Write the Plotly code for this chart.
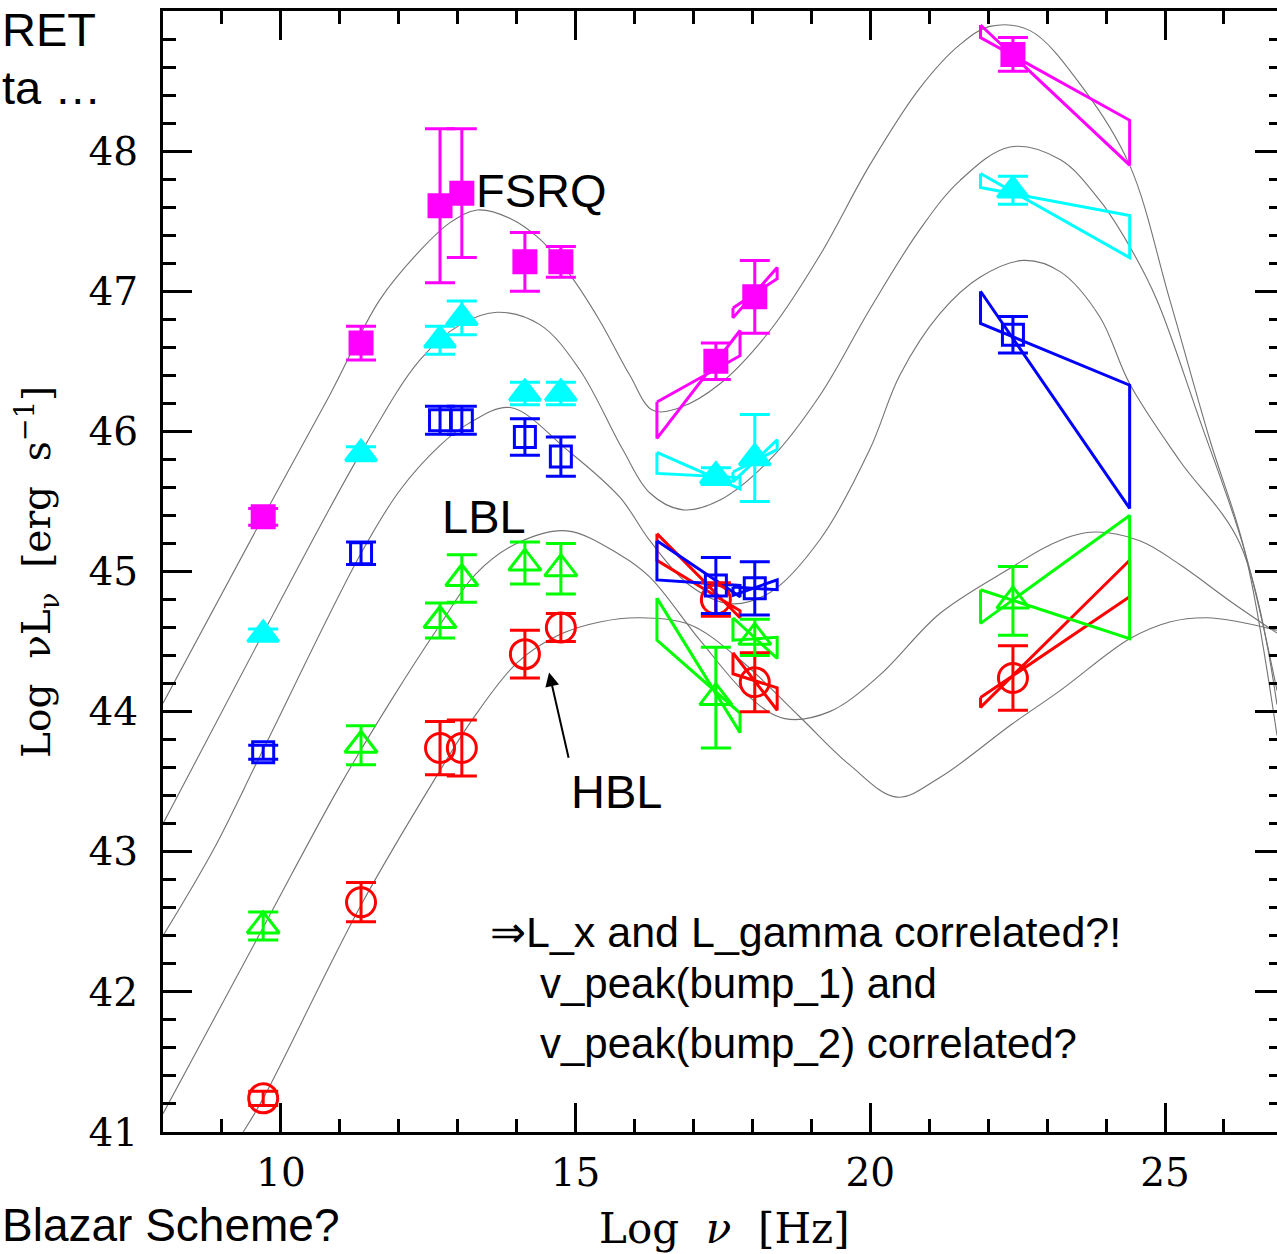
import plotly.graph_objects as go

# ---------------- data ----------------
log_nu = [9.70, 11.36, 12.70, 13.07, 14.14, 14.75, 17.38, 18.04, 22.42]

fsrq_y   = [45.39, 46.63, 47.61, 47.70, 47.21, 47.21, 46.50, 46.96, 48.69]
fsrq_err = [0.06, 0.12, 0.55, 0.46, 0.21, 0.11, 0.13, 0.26, 0.12]

cyan_y   = [44.55, 45.84, 46.65, 46.81, 46.27, 46.27, 45.68, 45.81, 47.72]
cyan_err = [0.04, 0.05, 0.10, 0.12, 0.08, 0.08, 0.06, 0.31, 0.10]

blue_y   = [43.71, 45.13, 46.08, 46.08, 45.96, 45.82, 44.90, 44.88, 46.69]
blue_err = [0.05, 0.08, 0.10, 0.10, 0.13, 0.14, 0.20, 0.19, 0.13]

green_y   = [42.47, 43.76, 44.65, 44.95, 45.06, 45.02, 44.10, 44.53, 44.79]
green_err = [0.10, 0.14, 0.125, 0.17, 0.15, 0.18, 0.36, 0.13, 0.245]

red_y   = [41.24, 42.64, 43.74, 43.74, 44.41, 44.60, 44.80, 44.21, 44.24]
red_err = [0.05, 0.14, 0.19, 0.20, 0.17, 0.10, 0.12, 0.21, 0.23]

# bow-ties (x, y polygon vertices)
bt_x_soft  = [16.38, 17.79, 17.79, 16.38, 16.38]
bt_x_hard  = [17.67, 18.42, 18.42, 17.67, 17.67]
bt_x_gamma = [21.87, 24.40, 24.40, 21.87, 21.87]

fsrq_soft_y  = [46.21, 46.54, 46.72, 45.95, 46.21]
fsrq_hard_y  = [46.88, 47.09, 47.17, 46.81, 46.88]
fsrq_gam_y   = [48.90, 47.90, 48.22, 48.81, 48.90]

cyan_soft_y  = [45.85, 45.59, 45.67, 45.70, 45.85]
cyan_hard_y  = [45.71, 45.87, 45.94, 45.64, 45.71]
cyan_gam_y   = [47.84, 47.24, 47.54, 47.74, 47.84]

blue_soft_y  = [45.22, 44.82, 44.90, 44.94, 45.22]
blue_hard_y  = [44.89, 44.87, 44.94, 44.83, 44.89]
blue_gam_y   = [47.00, 45.45, 46.33, 46.77, 47.00]

green_soft_y = [44.81, 43.85, 43.99, 44.51, 44.81]
green_hard_y = [44.67, 44.38, 44.53, 44.51, 44.67]
green_gam_y  = [44.87, 44.52, 45.40, 44.63, 44.87]

red_soft_y   = [45.27, 44.67, 44.72, 45.08, 45.27]
red_hard_y   = [44.42, 44.01, 44.17, 44.27, 44.42]
red_gam_y    = [44.10, 44.82, 45.08, 44.03, 44.10]

# model curves
c1_x = [8.00, 9.70, 10.83, 11.68, 12.36, 12.87, 13.33, 13.89, 14.40, 14.90, 15.41, 15.92, 16.31, 16.77,
        17.45, 18.30, 19.15, 19.99, 20.84, 21.52, 22.03, 22.71, 23.61, 24.40, 25.08, 25.76, 26.35, 26.90]
c1_y = [44.06, 45.39, 46.26, 46.94, 47.29, 47.49, 47.58, 47.52, 47.37, 47.12, 46.79, 46.40, 46.15, 46.17,
        46.34, 46.72, 47.26, 47.90, 48.45, 48.76, 48.89, 48.86, 48.45, 47.90, 46.94, 45.94, 45.15, 43.83]

c2_x = [8.00, 9.70, 11.36, 12.36, 13.04, 13.67, 14.40, 15.07, 15.80, 16.26, 16.82, 17.45, 18.30, 19.15,
        19.99, 20.84, 21.52, 22.37, 23.22, 23.89, 24.40, 24.86, 25.59, 26.35, 26.90]
c2_y = [43.20, 44.56, 45.85, 46.51, 46.76, 46.85, 46.76, 46.44, 45.87, 45.56, 45.44, 45.51, 45.80, 46.26,
        46.87, 47.44, 47.79, 48.03, 47.94, 47.65, 47.32, 46.94, 46.08, 45.15, 44.15]

c3_x = [8.00, 8.85, 9.70, 11.36, 12.02, 12.70, 13.16, 13.89, 14.85, 15.75, 16.26, 16.94, 17.62, 18.30,
        19.15, 19.99, 20.50, 21.18, 21.86, 22.60, 23.22, 23.89, 24.40, 25.25, 26.27, 26.90]
c3_y = [42.40, 43.01, 43.73, 45.13, 45.58, 45.90, 46.05, 46.17, 45.87, 45.53, 45.22, 44.90, 44.77, 44.85,
        45.23, 45.87, 46.40, 46.84, 47.10, 47.22, 47.14, 46.82, 46.34, 45.79, 45.20, 44.05]

c4_x = [8.00, 9.70, 11.00, 11.90, 12.70, 13.30, 14.00, 14.85, 15.75, 16.26, 17.11, 17.96, 18.55, 19.31,
        20.16, 21.18, 22.40, 23.05, 23.73, 24.57, 25.25, 26.10, 26.90]
c4_y = [41.13, 42.46, 43.47, 44.10, 44.62, 44.98, 45.20, 45.29, 45.12, 44.96, 44.51, 44.10, 43.95, 44.00,
        44.26, 44.70, 45.03, 45.19, 45.28, 45.22, 45.05, 44.79, 44.56]

c5_x = [9.36, 9.70, 11.36, 12.70, 13.21, 14.01, 14.73, 15.41, 16.09, 16.94, 17.79, 18.81, 19.65, 20.45,
        21.18, 22.40, 23.22, 24.40, 25.08, 25.71, 26.27, 26.90]
c5_y = [41.00, 41.24, 42.62, 43.58, 43.92, 44.35, 44.55, 44.64, 44.67, 44.62, 44.37, 43.96, 43.62, 43.39,
        43.53, 43.91, 44.15, 44.52, 44.64, 44.67, 44.64, 44.58]

x_tick_vals = [10, 15, 20, 25]
y_tick_vals = [41, 42, 43, 44, 45, 46, 47, 48]

# ---------------- figure ----------------
W, H = 1277, 1254
ML, MR, MT, MB = 163, 0, 11, 122
PW, PH = W - ML - MR, H - MT - MB


def px(xp):
    return (xp - ML) / PW


def py(yp):
    return (H - MB - yp) / PH


fig = go.Figure()

GRAY = "rgb(115,115,115)"
for cx, cy in [(c1_x, c1_y), (c2_x, c2_y), (c3_x, c3_y), (c4_x, c4_y), (c5_x, c5_y)]:
    fig.add_trace(go.Scatter(x=cx, y=cy, mode="lines", line=dict(color=GRAY, width=1.1, shape="spline"),
                             hoverinfo="skip", showlegend=False))

MAG, CYA, BLU, GRN, RED = "#FF00FF", "#00FFFF", "#0000FF", "#00FF00", "#FF0000"

bowties = [
    (RED, [red_soft_y, red_hard_y, red_gam_y]),
    (GRN, [green_soft_y, green_hard_y, green_gam_y]),
    (BLU, [blue_soft_y, blue_hard_y, blue_gam_y]),
    (CYA, [cyan_soft_y, cyan_hard_y, cyan_gam_y]),
    (MAG, [fsrq_soft_y, fsrq_hard_y, fsrq_gam_y]),
]
for col, ys in bowties:
    for bx, by in zip([bt_x_soft, bt_x_hard, bt_x_gamma], ys):
        fig.add_trace(go.Scatter(x=bx, y=by, mode="lines", line=dict(color=col, width=3),
                                 hoverinfo="skip", showlegend=False))

series = [
    (red_y, red_err, RED, "circle-open", 29),
    (green_y, green_err, GRN, "triangle-up-open", 28),
    (blue_y, blue_err, BLU, "square-open", 21),
    (cyan_y, cyan_err, CYA, "triangle-up", 27),
    (fsrq_y, fsrq_err, MAG, "square", 22),
]
for yy, ee, col, sym, sz in series:
    fig.add_trace(go.Scatter(
        x=log_nu, y=yy, mode="markers",
        marker=dict(symbol=sym, size=sz, color=col, line=dict(color=col, width=3)),
        error_y=dict(type="data", array=ee, visible=True, color=col, thickness=3, width=15),
        showlegend=False))

# invisible trace for the right-hand tick axis
fig.add_trace(go.Scatter(x=[8], y=[41], yaxis="y2", mode="markers", marker=dict(opacity=0),
                         hoverinfo="skip", showlegend=False))

TICKFONT = dict(family="DejaVu Serif", size=39, color="black")
fig.update_layout(
    width=W, height=H,
    margin=dict(l=ML, r=MR, t=MT, b=MB, pad=0),
    paper_bgcolor="white", plot_bgcolor="white",
    xaxis=dict(range=[8, 26.9], tickvals=x_tick_vals, ticks="inside", ticklen=29, tickwidth=3,
               tickcolor="black", showline=True, linewidth=3, linecolor="black", mirror="ticks",
               showgrid=False, zeroline=False, tickfont=TICKFONT, ticklabelstandoff=4,
               minor=dict(dtick=1, tick0=0, ticks="inside", ticklen=13, tickwidth=3, tickcolor="black",
                          showgrid=False)),
    yaxis=dict(range=[41, 49], tickvals=y_tick_vals, ticks="inside", ticklen=29, tickwidth=3,
               tickcolor="black", showline=True, linewidth=3, linecolor="black", mirror=False,
               showgrid=False, zeroline=False, tickfont=TICKFONT, ticklabelstandoff=14,
               minor=dict(dtick=0.2, tick0=41, ticks="inside", ticklen=13, tickwidth=3, tickcolor="black",
                          showgrid=False)),
    yaxis2=dict(range=[41, 49], overlaying="y", side="right", anchor="x", tickvals=y_tick_vals,
                ticks="inside", ticklen=22, tickwidth=3, tickcolor="black", showline=False,
                showticklabels=False, showgrid=False, zeroline=False,
                minor=dict(dtick=0.2, tick0=41, ticks="inside", ticklen=8, tickwidth=3, tickcolor="black",
                           showgrid=False)),
)

SANS = "Liberation Sans, Arial, sans-serif"
ann = []
# labels inside the plot
ann.append(dict(x=13.28, y=47.72, xref="x", yref="y", text="FSRQ", showarrow=False, xanchor="left",
                yanchor="middle", font=dict(family=SANS, size=47, color="black")))
ann.append(dict(x=12.70, y=45.39, xref="x", yref="y", text="LBL", showarrow=False, xanchor="left",
                yanchor="middle", font=dict(family=SANS, size=47, color="black")))
ann.append(dict(x=14.88, y=43.43, xref="x", yref="y", text="HBL", showarrow=False, xanchor="left",
                yanchor="middle", font=dict(family=SANS, size=47, color="black")))
ann.append(dict(x=14.55, y=44.28, xref="x", yref="y", ax=14.92, ay=43.60, axref="x", ayref="y",
                text=" ", showarrow=True, arrowhead=2, arrowsize=1.4, arrowwidth=2, arrowcolor="black"))
ann.append(dict(x=13.52, y=42.43, xref="x", yref="y", text="\u21d2L_x and L_gamma correlated?!",
                showarrow=False, xanchor="left", yanchor="middle", font=dict(family=SANS, size=43, color="black")))
ann.append(dict(x=14.37, y=42.06, xref="x", yref="y", text="v_peak(bump_1) and",
                showarrow=False, xanchor="left", yanchor="middle", font=dict(family=SANS, size=42, color="black")))
ann.append(dict(x=14.37, y=41.63, xref="x", yref="y", text="v_peak(bump_2) correlated?",
                showarrow=False, xanchor="left", yanchor="middle", font=dict(family=SANS, size=42, color="black")))
# axis titles
ann.append(dict(x=px(37), y=py(572), xref="paper", yref="paper", showarrow=False, textangle=-90,
                text="Log  \u03bdL<sub>\u03bd</sub>  [erg  s<sup>\u22121</sup>]", xanchor="center", yanchor="middle",
                font=dict(family="DejaVu Serif", size=39, color="black")))
ann.append(dict(x=px(724), y=py(1228), xref="paper", yref="paper", showarrow=False,
                text="Log  <i>\u03bd</i>  [Hz]", xanchor="center", yanchor="middle",
                font=dict(family="DejaVu Serif", size=42, color="black")))
# slide text fragments around the plot
ann.append(dict(x=px(0), y=py(30), xref="paper", yref="paper", text="RET", showarrow=False,
                xanchor="left", yanchor="middle", font=dict(family=SANS, size=47, color="black")))
ann.append(dict(x=px(0), y=py(88), xref="paper", yref="paper", text="ta \u2026", showarrow=False,
                xanchor="left", yanchor="middle", font=dict(family=SANS, size=47, color="black")))
ann.append(dict(x=px(0), y=py(1253), xref="paper", yref="paper", text="Blazar Scheme?", showarrow=False,
                xanchor="left", yanchor="bottom", font=dict(family=SANS, size=46, color="black")))
fig.update_layout(annotations=ann)

fig.write_html("out.html")
